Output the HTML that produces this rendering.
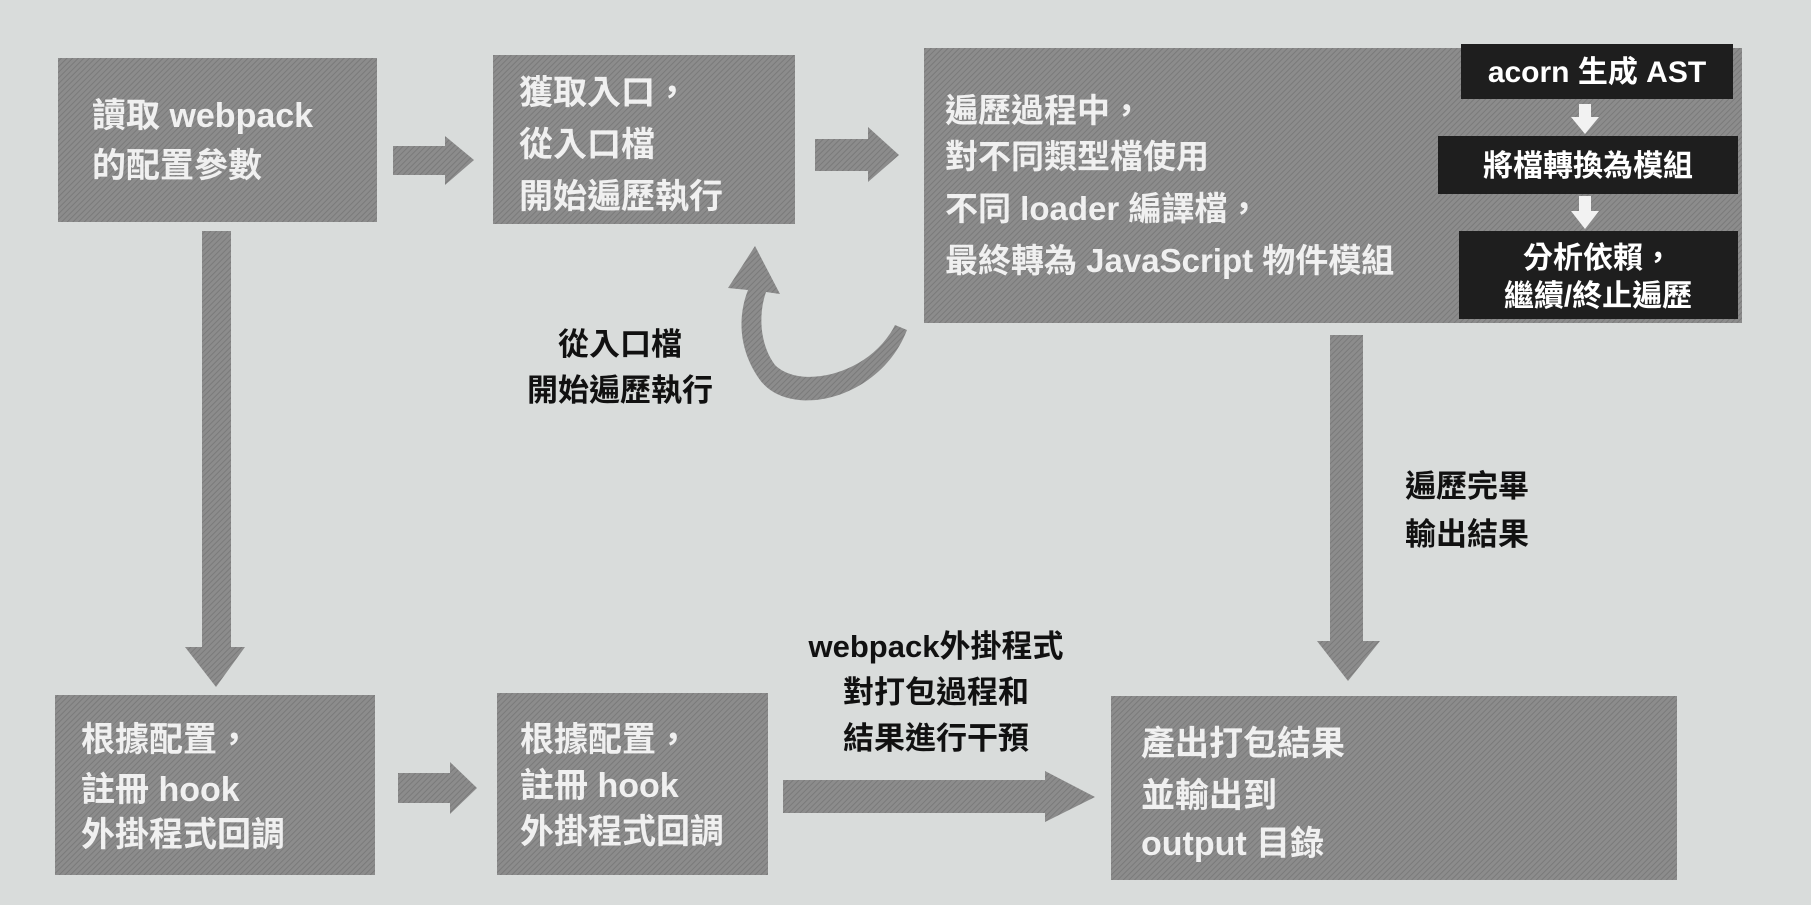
<!DOCTYPE html>
<html><head><meta charset="utf-8"><style>
html,body{margin:0;padding:0;background:#d9dcdb;}
svg{display:block}
text{font-family:"Liberation Sans","Noto Sans CJK TC",sans-serif;}
</style></head><body>
<svg width="1811" height="905" viewBox="0 0 1811 905" xmlns="http://www.w3.org/2000/svg">
<defs>
<pattern id="h" width="4" height="4" patternUnits="userSpaceOnUse" patternTransform="rotate(45)">
<rect width="4" height="4" fill="#8c8c8c"/><rect width="1" height="4" fill="#7a7a7a"/>
</pattern>
</defs>
<rect width="1811" height="905" fill="#d9dcdb"/>
<g fill="url(#h)">
<rect x="58" y="58" width="319" height="164"/>
<rect x="493" y="55" width="302" height="169"/>
<rect x="924" y="48" width="818" height="275"/>
<rect x="55" y="695" width="320" height="180"/>
<rect x="497" y="693" width="271" height="182"/>
<rect x="1111" y="696" width="566" height="184"/>
<polygon points="393,146 445,146 445,136 474,160 445,185 445,175 393,175"/>
<polygon points="815,139 868,139 868,127 899,155 868,182 868,171 815,171"/>
<polygon points="398,773 450,773 450,762 477,788 450,814 450,803 398,803"/>
<polygon points="783,780 1045,780 1045,771 1095,797 1045,822 1045,813 783,813"/>
<polygon points="202,231 231,231 231,647 245,647 216,687 185,647 202,647"/>
<polygon points="1330,335 1363,335 1363,641 1380,641 1348,681 1317,641 1330,641"/>
<path d="M907,330 C880,400 790,420 760,380 C735,345 740,310 748,290 L728,288 L755,246 L780,294 L766,292 C758,315 760,345 775,365 C800,390 870,375 895,325 Z"/>
</g>
<g fill="#1e1e1e">
<rect x="1461" y="44" width="272" height="55"/>
<rect x="1438" y="136" width="300" height="58"/>
<rect x="1459" y="231" width="279" height="88"/>
</g>
<g fill="#f2f2f2">
<polygon points="1579,104 1591,104 1591,117 1599,117 1585,134 1571,117 1579,117"/>
<polygon points="1579,196 1591,196 1591,211 1599,211 1585,229 1571,211 1579,211"/>
</g>
<g fill="#f0f0f0" font-size="34" font-weight="bold">
<text x="92" y="127">讀取 webpack</text>
<text x="92" y="177">的配置參數</text>
<text x="519" y="104">獲取入口，</text>
<text x="519" y="156">從入口檔</text>
<text x="519" y="208">開始遍歷執行</text>
<text x="945" y="122" font-size="33">遍歷過程中，</text>
<text x="945" y="168" font-size="33">對不同類型檔使用</text>
<text x="945" y="220" font-size="33">不同 loader 編譯檔，</text>
<text x="945" y="272" font-size="33">最終轉為 JavaScript 物件模組</text>
<text x="81" y="751">根據配置，</text>
<text x="81" y="801">註冊 hook</text>
<text x="81" y="846">外掛程式回調</text>
<text x="520" y="751">根據配置，</text>
<text x="520" y="797">註冊 hook</text>
<text x="520" y="843">外掛程式回調</text>
<text x="1141" y="755">產出打包結果</text>
<text x="1141" y="807">並輸出到</text>
<text x="1141" y="855">output 目錄</text>
</g>
<g fill="#ffffff" font-size="30" font-weight="bold" text-anchor="middle">
<text x="1597" y="82">acorn 生成 AST</text>
<text x="1588" y="176">將檔轉換為模組</text>
<text x="1598" y="268">分析依賴，</text>
<text x="1598" y="306">繼續/終止遍歷</text>
</g>
<g fill="#111" font-size="31" font-weight="bold" text-anchor="middle">
<text x="620" y="355">從入口檔</text>
<text x="620" y="401">開始遍歷執行</text>
<text x="1467" y="497">遍歷完畢</text>
<text x="1467" y="545">輸出結果</text>
<text x="936" y="657">webpack外掛程式</text>
<text x="936" y="703">對打包過程和</text>
<text x="936" y="749">結果進行干預</text>
</g>
</svg>
</body></html>
